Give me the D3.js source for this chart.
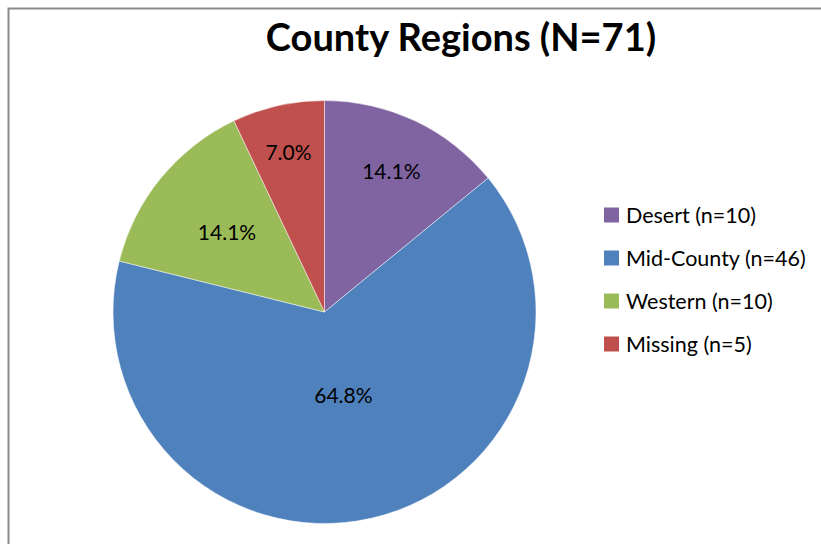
<!DOCTYPE html>
<html>
<head>
<meta charset="utf-8">
<script src="https://cdn.jsdelivr.net/npm/d3@7"></script>
<style>
  body { margin: 0; background: #fff; }
  svg { display: block; font-family: Lato, "Liberation Sans", sans-serif; }
</style>
</head>
<body>
<svg width="821" height="544"></svg>
<script>
const regions = ["Desert", "Mid-County", "Western", "Missing"];
const counts = [10, 46, 10, 5];
const colors = ["#8064A2", "#4F81BD", "#9BBB59", "#C0504D"];
// how far out (in px) each percentage label sits, as Excel's "best fit" put it
const labelRadius = [156, 86, 126, 164];

const svg = d3.select("svg");
const total = d3.sum(counts);

// chart frame
svg.append("rect")
	.attr("x", 8.5).attr("y", 8.5)
	.attr("width", 830).attr("height", 560)
	.attr("fill", "none")
	.attr("stroke", "#8a8a8a")
	.attr("stroke-width", 2);

svg.append("text")
	.attr("x", 461).attr("y", 51)
	.attr("text-anchor", "middle")
	.attr("font-size", 38)
	.attr("font-weight", "bold")
	.attr("fill", "#000")
	.text(`County Regions (N=${total})`);

const cx = 324.5, cy = 312, r = 211.5;
const pie = d3.pie().sort(null).value((d) => d)(counts);
const arc = d3.arc().innerRadius(0).outerRadius(r);

const g = svg.append("g").attr("transform", `translate(${cx},${cy})`);

g.selectAll("path.slice")
	.data(pie)
	.join("path")
	.attr("class", "slice")
	.attr("d", arc)
	.attr("fill", (d, i) => colors[i])
	.attr("stroke", "#fff")
	.attr("stroke-opacity", 0.6)
	.attr("stroke-width", 0.8);

const pct = d3.format(".1%");
g.selectAll("text.lbl")
	.data(pie)
	.join("text")
	.attr("class", "lbl")
	.attr("transform", (d, i) => {
		const k = labelRadius[i];
		const c = d3.arc().innerRadius(k).outerRadius(k).centroid(d);
		return `translate(${c})`;
	})
	.attr("text-anchor", "middle")
	.attr("dy", "0.36em")
	.attr("font-size", 21)
	.attr("fill", "#000")
	.text((d) => pct(d.value / total));

const legend = svg.append("g").attr("transform", "translate(604,0)");
const rowY = d3.scalePoint().domain(regions).range([215, 344]);

const row = legend.selectAll("g")
	.data(regions)
	.join("g")
	.attr("transform", (d) => `translate(0,${rowY(d)})`);

row.append("rect")
	.attr("x", 0).attr("y", -7.5)
	.attr("width", 15).attr("height", 15)
	.attr("fill", (d, i) => colors[i]);

row.append("text")
	.attr("x", 22)
	.attr("dy", "0.37em")
	.attr("font-size", 21.5)
	.attr("fill", "#000")
	.text((d, i) => `${d} (n=${counts[i]})`);
</script>
</body>
</html>
